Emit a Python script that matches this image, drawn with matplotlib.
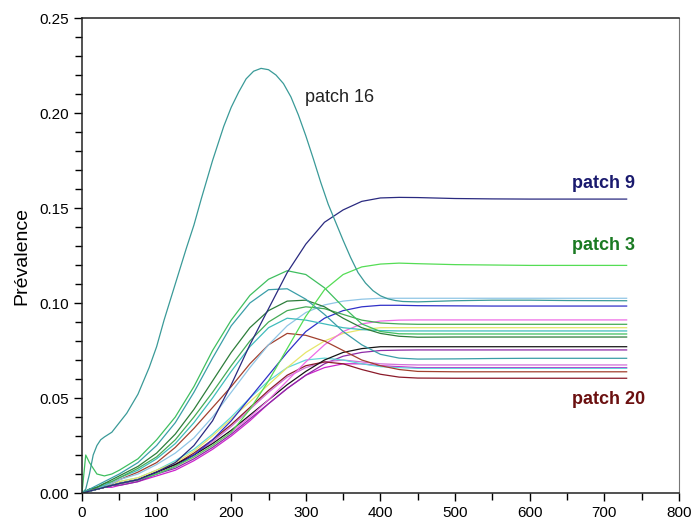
import matplotlib.pyplot as plt

plt.rcParams["font.family"] = ["Liberation Sans", "DejaVu Sans"]

# time grid (days)
t = [0, 5, 10, 20, 30, 40, 50, 75, 100, 125, 150, 175, 200, 225, 250, 275, 300,
     325, 350, 375, 400, 425, 450, 500, 550, 600, 650, 730]
# finer grid for patch 16, which moves fastest
t16 = [0, 5, 10, 15, 20, 25, 30, 40, 50, 60, 75, 90, 100, 110, 125, 140, 150, 160, 175, 190,
       200, 210, 220, 230, 240, 250, 260, 270, 280, 290, 300, 310, 320, 330, 340, 350, 360,
       370, 380, 390, 400, 410, 420, 430, 450, 500, 550, 600, 650, 730]

# prevalence per patch
patch16 = [0, 0.002, 0.010, 0.020, 0.025, 0.028, 0.0295, 0.032, 0.037, 0.042, 0.052, 0.066, 0.077,
           0.091, 0.110, 0.129, 0.141, 0.155, 0.175, 0.193, 0.203, 0.211, 0.218, 0.222, 0.2235,
           0.2228, 0.2200, 0.2155, 0.2085, 0.1990, 0.1880, 0.1760, 0.1635, 0.1520, 0.1425, 0.1330,
           0.1240, 0.1160, 0.1105, 0.1065, 0.1038, 0.1022, 0.1013, 0.1008, 0.1006, 0.1012, 0.1015,
           0.1015, 0.1013, 0.1012]
patch9 = [0, 0.0005, 0.001, 0.002, 0.003, 0.004, 0.005, 0.007, 0.011, 0.016, 0.025, 0.038, 0.057, 0.078,
          0.097, 0.116, 0.131, 0.1425, 0.149, 0.1535, 0.1553, 0.1556, 0.1555, 0.155, 0.1548, 0.1547, 0.1547, 0.1547]
patch3 = [0, 0.0005, 0.001, 0.002, 0.003, 0.004, 0.005, 0.007, 0.010, 0.014, 0.019, 0.025, 0.032, 0.044,
          0.059, 0.076, 0.093, 0.107, 0.115, 0.119, 0.1205, 0.121, 0.1207, 0.1202, 0.120, 0.1198, 0.1198, 0.1198]
green_a = [0, 0.020, 0.016, 0.010, 0.009, 0.010, 0.012, 0.018, 0.028, 0.040, 0.056, 0.075, 0.091, 0.104,
           0.1125, 0.117, 0.115, 0.108, 0.098, 0.089, 0.085, 0.0838, 0.0837, 0.0837, 0.0837, 0.0837, 0.0837, 0.0837]
teal_b = [0, 0.001, 0.002, 0.004, 0.006, 0.008, 0.010, 0.016, 0.025, 0.037, 0.053, 0.071, 0.088, 0.100,
          0.107, 0.1075, 0.102, 0.094, 0.085, 0.078, 0.073, 0.071, 0.0705, 0.0706, 0.0708, 0.0709, 0.0709, 0.0709]
dkgreen_c = [0, 0.001, 0.002, 0.003, 0.005, 0.007, 0.009, 0.014, 0.021, 0.031, 0.044, 0.059, 0.074, 0.087,
             0.096, 0.101, 0.1015, 0.098, 0.092, 0.087, 0.084, 0.0825, 0.082, 0.0821, 0.0821, 0.0821, 0.0821, 0.0821]
green_d = [0, 0.001, 0.002, 0.003, 0.005, 0.006, 0.008, 0.013, 0.019, 0.028, 0.040, 0.053, 0.067, 0.080,
           0.090, 0.096, 0.098, 0.097, 0.094, 0.091, 0.0895, 0.089, 0.0888, 0.0888, 0.0888, 0.0888, 0.0888, 0.0888]
cyan_e = [0, 0.001, 0.002, 0.003, 0.004, 0.006, 0.008, 0.012, 0.018, 0.026, 0.037, 0.050, 0.064, 0.077,
          0.087, 0.092, 0.091, 0.089, 0.087, 0.086, 0.0855, 0.0853, 0.0853, 0.0853, 0.0853, 0.0853, 0.0853, 0.0853]
brown_f = [0, 0.001, 0.001, 0.003, 0.004, 0.005, 0.007, 0.011, 0.016, 0.024, 0.034, 0.045, 0.056, 0.068,
           0.078, 0.084, 0.083, 0.080, 0.075, 0.070, 0.067, 0.065, 0.064, 0.0638, 0.0638, 0.0638, 0.0638, 0.0638]
ltblue_g = [0, 0.0005, 0.001, 0.002, 0.004, 0.005, 0.007, 0.010, 0.015, 0.021, 0.029, 0.040, 0.053, 0.066,
            0.078, 0.088, 0.095, 0.099, 0.101, 0.102, 0.1025, 0.1025, 0.1025, 0.1025, 0.1025, 0.1025, 0.1025, 0.1025]
blue_h = [0, 0.0005, 0.001, 0.002, 0.003, 0.004, 0.005, 0.007, 0.010, 0.014, 0.020, 0.028, 0.038, 0.050,
          0.062, 0.074, 0.085, 0.092, 0.096, 0.098, 0.0988, 0.0988, 0.0986, 0.0985, 0.0984, 0.0984, 0.0984, 0.0984]
pink = [0, 0.0005, 0.001, 0.002, 0.003, 0.004, 0.005, 0.007, 0.010, 0.014, 0.019, 0.025, 0.032, 0.040,
        0.049, 0.059, 0.069, 0.078, 0.085, 0.089, 0.0905, 0.091, 0.0911, 0.0911, 0.0911, 0.0911, 0.0911, 0.0911]
yellow = [0, 0.0005, 0.001, 0.002, 0.004, 0.005, 0.006, 0.008, 0.012, 0.016, 0.022, 0.030, 0.039, 0.048,
          0.057, 0.066, 0.074, 0.080, 0.084, 0.086, 0.087, 0.087, 0.087, 0.087, 0.087, 0.087, 0.087, 0.087]
black = [0, 0.0005, 0.001, 0.002, 0.003, 0.004, 0.005, 0.007, 0.011, 0.015, 0.020, 0.026, 0.033, 0.041,
         0.049, 0.057, 0.064, 0.070, 0.074, 0.076, 0.077, 0.077, 0.077, 0.077, 0.077, 0.077, 0.077, 0.077]
purple = [0, 0.0005, 0.001, 0.002, 0.003, 0.004, 0.004, 0.006, 0.010, 0.013, 0.018, 0.024, 0.031, 0.039,
          0.047, 0.055, 0.062, 0.068, 0.072, 0.074, 0.075, 0.0752, 0.0753, 0.0753, 0.0753, 0.0753, 0.0753, 0.0753]
lilac = [0, 0.0005, 0.001, 0.002, 0.003, 0.004, 0.005, 0.007, 0.011, 0.015, 0.020, 0.027, 0.035, 0.044,
         0.053, 0.061, 0.066, 0.069, 0.070, 0.069, 0.068, 0.0676, 0.0674, 0.0674, 0.0674, 0.0674, 0.0674, 0.0674]
ltcyan = [0, 0.0005, 0.001, 0.002, 0.004, 0.005, 0.006, 0.008, 0.012, 0.017, 0.023, 0.031, 0.040, 0.050,
          0.059, 0.066, 0.070, 0.071, 0.070, 0.068, 0.0665, 0.066, 0.0656, 0.0656, 0.0656, 0.0656, 0.0656, 0.0656]
magenta = [0, 0.0005, 0.001, 0.002, 0.003, 0.003, 0.004, 0.006, 0.009, 0.012, 0.017, 0.023, 0.030, 0.038,
           0.047, 0.055, 0.062, 0.066, 0.068, 0.068, 0.067, 0.0665, 0.066, 0.066, 0.066, 0.066, 0.066, 0.066]
patch20 = [0, 0.0005, 0.001, 0.002, 0.003, 0.004, 0.005, 0.007, 0.011, 0.015, 0.021, 0.028, 0.036, 0.045,
           0.054, 0.062, 0.067, 0.069, 0.068, 0.065, 0.0625, 0.061, 0.0605, 0.0604, 0.0604, 0.0604, 0.0604, 0.0604]

curves = [
    (magenta, "#cc22cc"), (purple, "#8e2aa6"), (lilac, "#d070d8"), (ltcyan, "#60d8d8"),
    (patch20, "#8b1a2a"), (black, "#151515"), (yellow, "#e6e66a"), (pink, "#ee6be6"),
    (brown_f, "#a2402e"), (blue_h, "#3030c8"), (ltblue_g, "#90c6e6"), (cyan_e, "#40bcbc"),
    (green_d, "#44aa55"), (dkgreen_c, "#2d7d3a"), (teal_b, "#3a9ea8"), (green_a, "#3fbf5f"),
    (patch3, "#55dd55"), (patch9, "#2a2a80"),
]

fig = plt.figure(figsize=(6.92, 5.27), dpi=100)
ax = fig.add_axes([0.1185, 0.0645, 0.8625, 0.9013])

for values, color in curves:
    ax.plot(t, values, color=color, lw=0.9)
ax.plot(t16, patch16, color="#3a9a98", lw=0.9)

ax.text(299, 0.2084, "patch 16", fontsize=13, color="#222222", va="center")
ax.text(657, 0.163, "patch 9", fontsize=13, color="#1a1a6e", va="center", fontweight="bold")
ax.text(657, 0.1305, "patch 3", fontsize=13, color="#1a7a22", va="center", fontweight="bold")
ax.text(657, 0.049, "patch 20", fontsize=13, color="#6b1010", va="center", fontweight="bold")

ax.set_xlim(0, 800)
ax.set_ylim(0, 0.25)
ax.set_xticks(range(0, 801, 100))
ax.set_xticks(range(50, 800, 100), minor=True)
ax.set_yticks([0, 0.05, 0.10, 0.15, 0.20, 0.25])
ax.set_yticks([i / 100 for i in range(1, 25) if i % 5], minor=True)
ax.set_yticklabels(["0.00", "0.05", "0.10", "0.15", "0.20", "0.25"])
ax.tick_params(axis="both", which="major", direction="out", length=6, width=1, labelsize=11)
ax.tick_params(axis="both", which="minor", direction="out", length=5, width=1)
ax.set_ylabel("Prévalence", fontsize=14, labelpad=6)

for side in ("left", "bottom", "top"):
    ax.spines[side].set_linewidth(1.1)
    ax.spines[side].set_color("#222222")
ax.spines["right"].set_color("#777777")
ax.spines["right"].set_linewidth(0.8)

fig.savefig("out.png", dpi=100)
